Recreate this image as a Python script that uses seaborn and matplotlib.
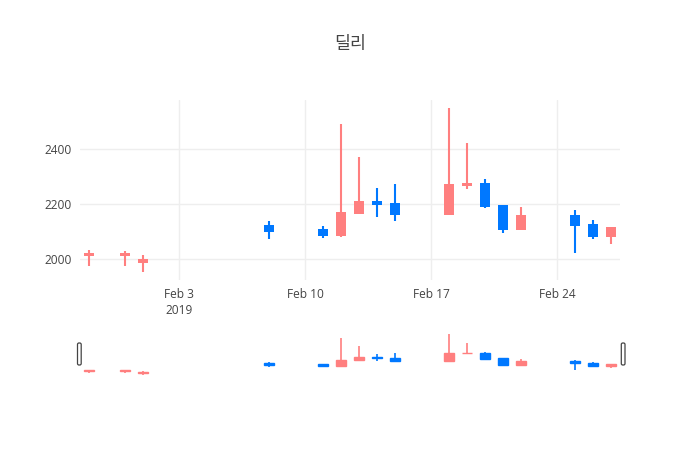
import numpy as np
import pandas as pd
import matplotlib
matplotlib.use("Agg")
import matplotlib.pyplot as plt
import matplotlib.dates as mdates
import matplotlib.patches as patches
from matplotlib.transforms import IdentityTransform
import seaborn as sns

# candle data
dates = ["2019-01-29", "2019-01-31", "2019-02-01", "2019-02-08", "2019-02-11",
         "2019-02-12", "2019-02-13", "2019-02-14", "2019-02-15", "2019-02-18",
         "2019-02-19", "2019-02-20", "2019-02-21", "2019-02-22", "2019-02-25",
         "2019-02-26", "2019-02-27"]
open_ = [2012, 2012, 1985, 2124, 2108, 2085, 2166, 2212, 2203, 2161,
         2267, 2276, 2196, 2105, 2161, 2127, 2081]
high = [2032, 2030, 2015, 2137, 2119, 2491, 2370, 2258, 2273, 2549,
        2424, 2293, 2196, 2190, 2178, 2144, 2117]
low = [1976, 1976, 1954, 2073, 2078, 2079, 2166, 2154, 2139, 2161,
       2255, 2185, 2095, 2105, 2024, 2075, 2055]
close = [2024, 2024, 2000, 2099, 2085, 2172, 2212, 2197, 2161, 2273,
         2276, 2190, 2105, 2161, 2121, 2081, 2117]

tick_dates = ["2019-02-03", "2019-02-10", "2019-02-17", "2019-02-24"]
tick_labels = ["Feb 3\n2019", "Feb 10", "Feb 17", "Feb 24"]
y_ticks = [2000, 2200, 2400]

title = "딜리"

UP = "#ff7f7f"
DOWN = "#0078ff"
TXT = "#444444"
GRID = "#eeeeee"

df = pd.DataFrame({"date": pd.to_datetime(dates), "open": open_, "high": high,
                   "low": low, "close": close})
df["x"] = mdates.date2num(df["date"])
df["color"] = np.where(df["close"] >= df["open"], UP, DOWN)

sns.set_theme(style="white")
plt.rcParams["font.family"] = ["Open Sans", "Noto Sans CJK KR", "DejaVu Sans"]

W, H = 700, 450
fig = plt.figure(figsize=(7, 4.5), dpi=100, facecolor="white")
ax = fig.add_axes([80 / W, 1 - 280 / H, 540 / W, 180 / H])
ax_s = fig.add_axes([80 / W, 1 - 377 / H, 540 / W, 45 / H])

x0 = df["x"].min() - 0.5
x1 = df["x"].max() + 0.5
span = df["high"].max() - df["low"].min()
y0 = df["low"].min() - 0.05 * span
y1 = df["high"].max() + 0.05 * span


def draw_candles(a, lw, edge):
    a.vlines(df["x"], df["low"], df["high"], colors=df["color"], lw=lw, zorder=2)
    body = (df["close"] - df["open"]).abs().clip(lower=1)
    bottom = df[["open", "close"]].min(axis=1)
    a.bar(df["x"], body, bottom=bottom, width=0.6, color=df["color"],
          edgecolor=df["color"], linewidth=edge, zorder=3)
    a.set_xlim(x0, x1)
    a.set_ylim(y0, y1)
    for sp in a.spines.values():
        sp.set_visible(False)


draw_candles(ax, 1.5, 0)
draw_candles(ax_s, 1.2, 1.0)

ax.set_xticks(mdates.date2num(pd.to_datetime(tick_dates)))
ax.set_xticklabels(tick_labels, color=TXT, fontsize=8.6, linespacing=1.25)
ax.set_yticks(y_ticks)
ax.set_yticklabels([str(v) for v in y_ticks], color=TXT, fontsize=8.6)
ax.tick_params(axis="both", length=0, pad=6)
ax.grid(True, color=GRID, lw=1, zorder=0)
ax.set_axisbelow(True)

ax_s.set_xticks([])
ax_s.set_yticks([])
ax_s.set_facecolor("none")

# range slider grab handles
for hx in (77.5, 621.3):
    fig.add_artist(patches.FancyBboxPatch(
        (hx, H - 365), 3.7, 22, boxstyle="round,pad=0,rounding_size=1.5",
        transform=IdentityTransform(), facecolor="white", edgecolor=TXT, lw=0.9))

fig.text(0.5, 1 - 44 / H, title, ha="center", va="center", color=TXT,
         fontsize=12.5, family=["Noto Sans CJK KR", "DejaVu Sans"])

fig.savefig("out.png", dpi=100, facecolor="white")
